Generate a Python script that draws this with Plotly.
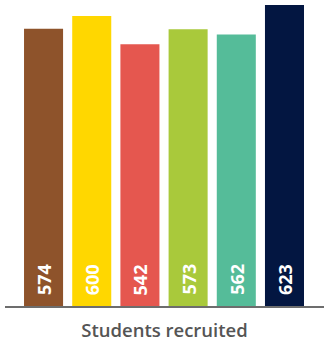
import plotly.graph_objects as go

categories = ["A", "B", "C", "D", "E", "F"]
values = [574, 600, 542, 573, 562, 623]
colors = ["#8E532B", "#FFD700", "#E5574F", "#A9C93B", "#55BC99", "#031641"]
axis_title = "Students recruited"

fig = go.Figure(go.Bar(
    x=categories,
    y=values,
    marker=dict(color=colors, line=dict(width=0)),
    hoverinfo="x+y",
))

for c, v in zip(categories, values):
    fig.add_annotation(
        x=c, y=0, xref="x", yref="y",
        text=str(v), textangle=-90, showarrow=False,
        xanchor="center", yanchor="bottom", yshift=9,
        font=dict(family="Open Sans", size=18, color="white", weight="bold"),
    )

fig.update_layout(
    width=324, height=347,
    margin=dict(l=5, r=0, t=5, b=41),
    paper_bgcolor="white", plot_bgcolor="white",
    bargap=0.19,
    showlegend=False,
    xaxis=dict(
        type="category", range=[-0.8, 5.82],
        showline=True, linecolor="#6d6d6d", linewidth=1.5,
        showticklabels=False, ticks="", showgrid=False, zeroline=False,
        title=dict(text=axis_title, standoff=17,
                   font=dict(family="Open Sans", size=18.5, color="#555555", weight=600)),
    ),
    yaxis=dict(range=[0, 623], visible=False, showgrid=False, zeroline=False),
)

fig.write_html("out.html", config={"displayModeBar": False},
               post_script="document.body.style.margin='0';")
